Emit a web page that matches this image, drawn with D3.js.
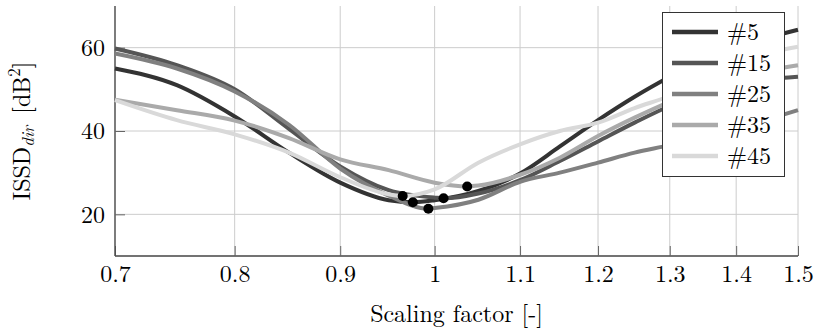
<!DOCTYPE html>
<html>
<head>
<meta charset="utf-8">
<script src="https://cdn.jsdelivr.net/npm/d3@7"></script>
<style>
  html, body { margin: 0; padding: 0; background: #fff; }
  svg { display: block; }
</style>
</head>
<body>
<svg id="chart" width="817" height="329"></svg>
<script>
// Sampled scaling factors shared by every series
const scaleFactors = [0.7, 0.75, 0.8, 0.85, 0.9, 0.95, 1.0, 1.05, 1.1, 1.15, 1.2, 1.25, 1.3, 1.35, 1.4, 1.45, 1.5];

// ISSD_dir [dB^2] per subject
const issd5  = [55.0, 51.0, 43.5, 34.8, 27.6, 23.4, 23.4, 25.6, 29.8, 36.3, 42.6, 48.2, 53.0, 57.2, 60.2, 62.4, 64.3];
const issd15 = [59.8, 55.8, 50.0, 40.5, 31.5, 25.8, 24.0, 25.0, 28.2, 32.8, 37.5, 42.0, 46.0, 49.0, 51.2, 52.4, 53.0];
const issd25 = [58.6, 55.0, 49.5, 41.5, 31.0, 24.5, 21.5, 23.5, 27.8, 30.0, 32.4, 34.8, 36.6, 38.6, 40.7, 42.8, 45.0];
const issd35 = [47.5, 45.0, 42.5, 38.3, 33.2, 30.6, 27.6, 26.9, 29.5, 33.6, 38.8, 43.2, 47.0, 50.0, 52.6, 54.5, 55.8];
const issd45 = [47.4, 42.6, 39.2, 34.8, 28.9, 24.8, 26.0, 32.4, 36.8, 40.0, 42.0, 45.5, 48.4, 52.0, 55.6, 58.6, 60.2];

// Optimal scaling factor and its ISSD per subject
const minScale = [0.976, 1.010, 0.993, 1.037, 0.965];
const minIssd  = [22.9, 23.85, 21.35, 26.7, 24.4];

const seriesNames  = ["#5", "#15", "#25", "#35", "#45"];
const seriesColors = ["#333333", "#555555", "#808080", "#aaaaaa", "#d9d9d9"];
const seriesValues = [issd5, issd15, issd25, issd35, issd45];

const xTicks = [0.7, 0.8, 0.9, 1.0, 1.1, 1.2, 1.3, 1.4, 1.5];
const xTickLabels = ["0.7", "0.8", "0.9", "1", "1.1", "1.2", "1.3", "1.4", "1.5"];
const yTicks = [20, 40, 60];

const FONT = '"Latin Modern Roman", "Liberation Serif", serif';
const FS = 24;

const width = 817, height = 329;
const margin = { top: 6, right: 19, bottom: 73, left: 115 };
const innerW = width - margin.left - margin.right;
const innerH = height - margin.top - margin.bottom;

const svg = d3.select("#chart");
const g = svg.append("g").attr("transform", `translate(${margin.left},${margin.top})`);

const x = d3.scaleLog().domain([0.7, 1.5]).range([0, innerW]);
const y = d3.scaleLinear().domain([10, 70]).range([innerH, 0]);

// grid
g.append("g").selectAll("line").data(xTicks).join("line")
  .attr("x1", d => x(d)).attr("x2", d => x(d))
  .attr("y1", 0).attr("y2", innerH)
  .attr("stroke", "#cccccc").attr("stroke-width", 1);
g.append("g").selectAll("line").data(yTicks).join("line")
  .attr("x1", 0).attr("x2", innerW)
  .attr("y1", d => y(d)).attr("y2", d => y(d))
  .attr("stroke", "#cccccc").attr("stroke-width", 1);

// axes (inward ticks)
const xAxis = g.append("g").attr("transform", `translate(0,${innerH})`)
  .call(d3.axisBottom(x).tickValues(xTicks).tickSizeInner(-10).tickSizeOuter(0)
    .tickFormat((d, i) => xTickLabels[i]).tickPadding(8));
const yAxis = g.append("g")
  .call(d3.axisLeft(y).tickValues(yTicks).tickSizeInner(-10).tickSizeOuter(0).tickPadding(10));

[xAxis, yAxis].forEach(ax => {
  ax.attr("font-family", null).attr("font-size", null);
  ax.select(".domain").attr("stroke", "#444").attr("stroke-width", 1.3);
  ax.selectAll(".tick line").attr("stroke", "#666").attr("stroke-width", 1);
  ax.selectAll(".tick text")
    .style("font-family", FONT).style("font-size", FS + "px").attr("fill", "#000");
});
xAxis.selectAll(".tick text").attr("dy", "0.75em");
xAxis.select(".domain").attr("d", `M0,0H${innerW}`);
yAxis.select(".domain").attr("d", `M0,0V${innerH}`);

// curves
const line = d3.line()
  .x(d => x(d[0])).y(d => y(d[1]))
  .curve(d3.curveMonotoneX);

seriesValues.forEach((vals, i) => {
  const pts = scaleFactors.map((s, j) => [s, vals[j]]);
  pts.push([minScale[i], minIssd[i]]);
  pts.sort((a, b) => a[0] - b[0]);
  g.append("path")
    .datum(pts)
    .attr("fill", "none")
    .attr("stroke", seriesColors[i])
    .attr("stroke-width", 4)
    .attr("stroke-linejoin", "round")
    .attr("d", line);
});

// optimum markers
g.append("g").selectAll("circle").data(minScale).join("circle")
  .attr("cx", d => x(d))
  .attr("cy", (d, i) => y(minIssd[i]))
  .attr("r", 5)
  .attr("fill", "#000");

// legend
const legend = svg.append("g").attr("transform", "translate(662,12)");
legend.append("rect")
  .attr("x", 0.5).attr("y", 0.5).attr("width", 122).attr("height", 164)
  .attr("fill", "#fff").attr("stroke", "#333").attr("stroke-width", 1);
seriesNames.forEach((name, i) => {
  const yy = 20 + i * 31;
  legend.append("line")
    .attr("x1", 10).attr("x2", 56).attr("y1", yy).attr("y2", yy)
    .attr("stroke", seriesColors[i]).attr("stroke-width", 4.5);
  legend.append("text")
    .attr("x", 65).attr("y", yy).attr("dy", "0.34em")
    .style("font-family", FONT).style("font-size", FS + "px")
    .text(name);
});

// axis titles (a hair of rotation keeps the glyphs on grayscale antialiasing)
svg.append("text")
  .attr("transform", `translate(${margin.left + innerW / 2},322) rotate(0.01)`)
  .attr("text-anchor", "middle").attr("fill", "#000")
  .style("font-family", FONT).style("font-size", FS + "px")
  .text("Scaling factor [-]");

const yl = svg.append("text")
  .attr("transform", `translate(30,${margin.top + innerH / 2}) rotate(-90)`)
  .attr("text-anchor", "middle").attr("fill", "#000")
  .style("font-family", FONT).style("font-size", FS + "px");
yl.append("tspan").text("ISSD");
yl.append("tspan").style("font-size", "17px").style("font-style", "italic").attr("dy", 4).text("dir");
yl.append("tspan").attr("dy", -4).text("\u2002[dB");
yl.append("tspan").style("font-size", "17px").attr("dy", -10).text("2");
yl.append("tspan").attr("dy", 10).text("]");
</script>
</body>
</html>
